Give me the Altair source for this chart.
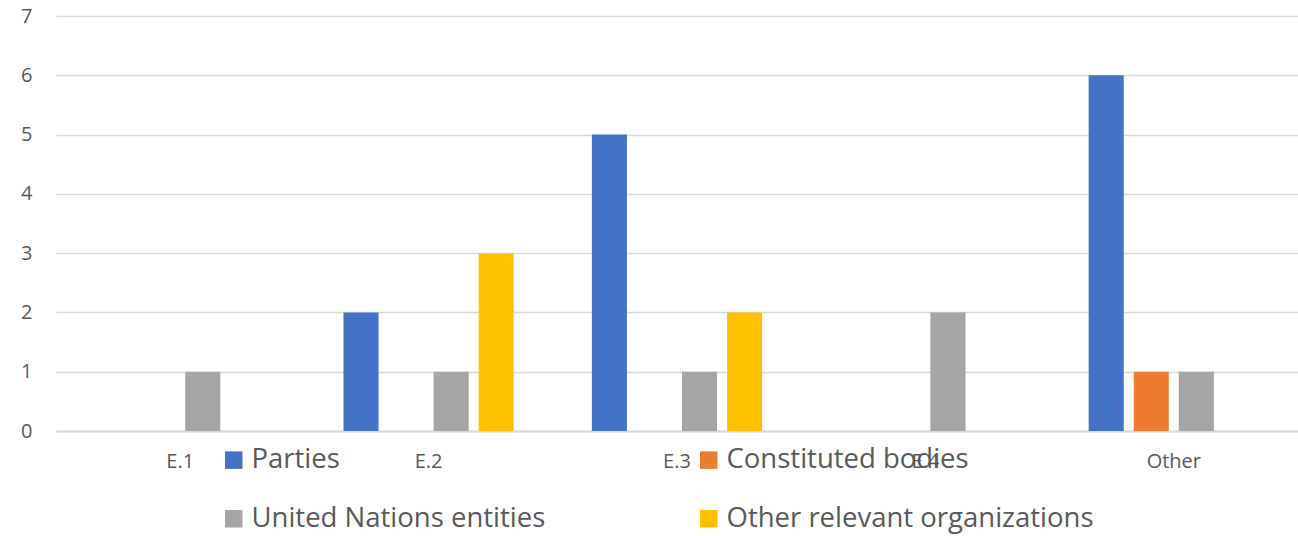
import altair as alt
import pandas as pd

categories = ["E.1", "E.2", "E.3", "E.4", "Other"]
series_names = ["Parties", "Constituted bodies", "United Nations entities", "Other relevant organizations"]
parties = [0, 2, 5, 0, 6]
constituted = [0, 0, 0, 0, 1]
un_entities = [1, 1, 1, 2, 1]
other_orgs = [0, 3, 2, 0, 0]
colors = ["#4472C4", "#ED7D31", "#A5A5A5", "#FFC000"]

rows = []
for s, vals in zip(series_names, [parties, constituted, un_entities, other_orgs]):
    for c, v in zip(categories, vals):
        rows.append({"category": c, "series": s, "value": v})
df = pd.DataFrame(rows)

FONT = "Open Sans"
TEXT = "#595959"

chart = alt.Chart(df).mark_bar().encode(
    x=alt.X("category:N", sort=categories, title=None,
            scale=alt.Scale(paddingInner=0, paddingOuter=0),
            axis=alt.Axis(labelAngle=0, labelFontSize=20, labelFont=FONT, labelColor=TEXT,
                          ticks=False, domain=True, domainColor="#D9D9D9", domainWidth=2,
                          labelPadding=20)),
    xOffset=alt.XOffset("series:N", sort=series_names,
                        scale=alt.Scale(paddingInner=0.222, paddingOuter=0.867)),
    y=alt.Y("value:Q", title=None,
            scale=alt.Scale(domain=[0, 7], nice=False),
            axis=alt.Axis(values=[0, 1, 2, 3, 4, 5, 6, 7], format="d", ticks=False, domain=False,
                          gridColor="#D9D9D9", gridWidth=1.5,
                          labelFontSize=20, labelFont=FONT, labelColor=TEXT, labelPadding=24)),
    color=alt.Color("series:N", sort=series_names,
                    scale=alt.Scale(domain=series_names, range=colors),
                    legend=alt.Legend(title=None, orient="none", legendX=164, legendY=430,
                                      padding=0, offset=0,
                                      columns=2, direction="horizontal",
                                      symbolType="square", symbolSize=306, symbolStrokeWidth=0,
                                      labelFont=FONT, labelFontSize=27.5, labelColor=TEXT,
                                      labelLimit=600, labelOffset=4,
                                      columnPadding=149, rowPadding=30)),
).properties(
    width=1242, height=415,
    autosize=alt.AutoSizeParams(type="none"),
    padding={"left": 56, "top": 16, "right": 0, "bottom": 105},
).configure_view(stroke=None)

chart.save("out.html", embed_options={"renderer": "svg", "actions": False})
